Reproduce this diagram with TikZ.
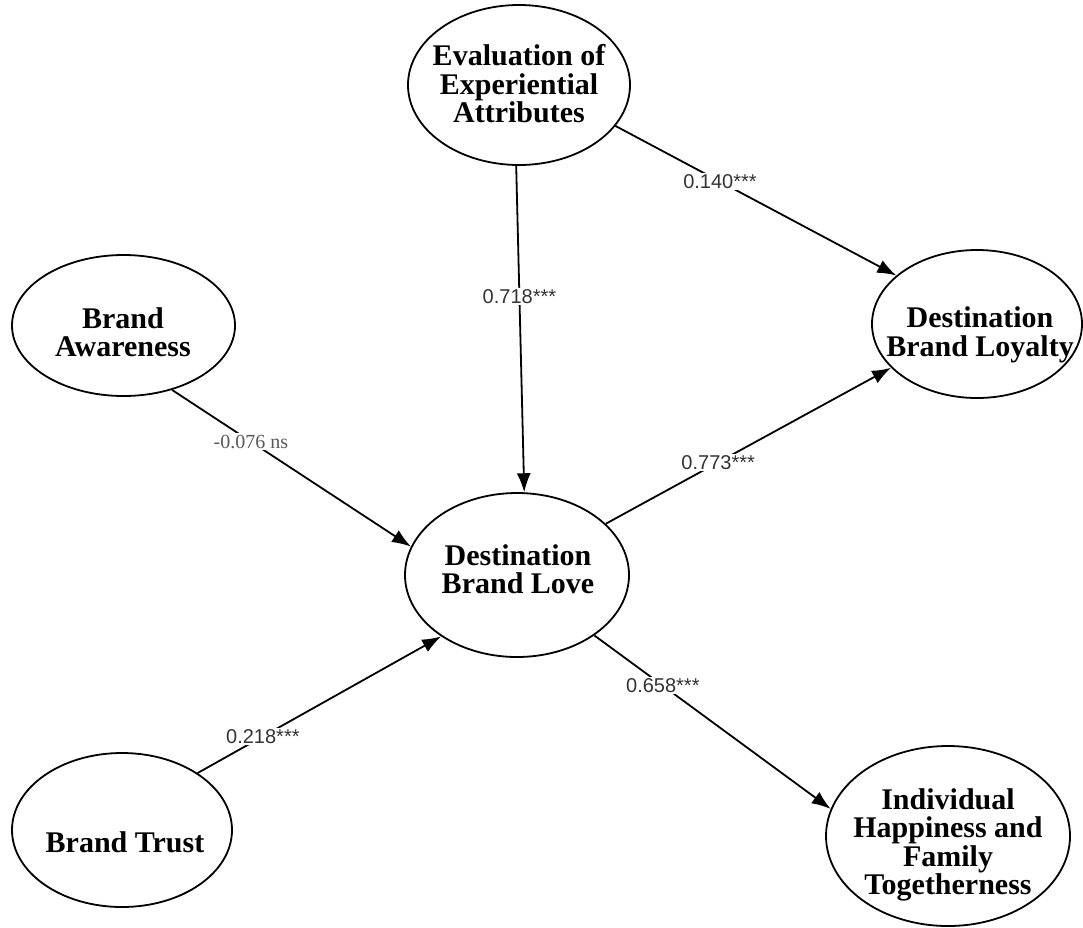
\documentclass[tikz,border=0pt]{standalone}
\usepackage{fontspec}
\setmainfont{Liberation Serif}
\newfontfamily\coeffont{Liberation Sans}
\usetikzlibrary{arrows.meta,shapes.geometric}

\tikzset{
  x=1pt, y=-1pt,
  latent/.style 2 args={draw=black, line width=1.8pt, ellipse, inner sep=0pt,
    minimum width=#1, minimum height=#2},
  ctext/.style={align=center, inner sep=0pt,
    font=\fontsize{30}{28.5}\selectfont\bfseries},
  link/.style={line width=1.8pt, -{Latex[length=19pt,width=14pt]}},
  coef/.style={fill=white, inner sep=1.5pt, text=black!80,
    font=\coeffont\fontsize{20}{22}\selectfont},
  nscoef/.style={fill=white, inner sep=1.5pt, text=black!65,
    font=\fontsize{20}{22}\selectfont},
}

\begin{document}
\begin{tikzpicture}
  \useasboundingbox[fill=white] (0,0) rectangle (1083,927);

  % latent constructs
  \node[latent={222pt}{160pt}] (eea)  at (519,85)  {};
  \node[latent={223pt}{141pt}] (ba)   at (123.5,325.5) {};
  \node[latent={210pt}{148pt}] (dbl)  at (977,324) {};
  \node[latent={224pt}{164pt}] (dblv) at (517,575) {};
  \node[latent={220pt}{154pt}] (bt)   at (122,830) {};
  \node[latent={244pt}{180pt}] (ihft) at (948,836) {};

  % construct names
  \node[ctext] (eea-t)  at (519,84)  {Evaluation of\\Experiential\\Attributes};
  \node[ctext] (ba-t)   at (123,332) {Brand\\Awareness};
  \node[ctext] (dbl-t)  at (980,335) {Destination\\Brand Loyalty};
  \node[ctext] (dblv-t) at (518,569) {Destination\\Brand Love};
  \node[ctext] (bt-t)   at (125,842) {Brand Trust};
  \node[ctext] (ihft-t) at (948,845) {Individual\\Happiness and\\Family\\Togetherness};

  % structural paths with coefficients
  \draw[link] (eea.-23.7) -- node[coef, pos=0.372] {0.140***} (dbl.149.3);
  \draw[link] (eea.-92)   -- node[coef, pos=0.40]  {0.718***} (dblv.85);
  \draw[link] (ba.-53.3)  -- node[nscoef, pos=0.33] {-0.076 ns} (dblv.165.7);
  \draw[link] (dblv.30)   -- node[coef, pos=0.394] {0.773***} (dbl.207.1);
  \draw[link] (bt.37.2)   -- node[coef, pos=0.268] {0.218***} (dblv.219.2);
  \draw[link] (dblv.-38.6) -- node[coef, pos=0.29] {0.658***} (ihft.167.4);
\end{tikzpicture}
\end{document}
